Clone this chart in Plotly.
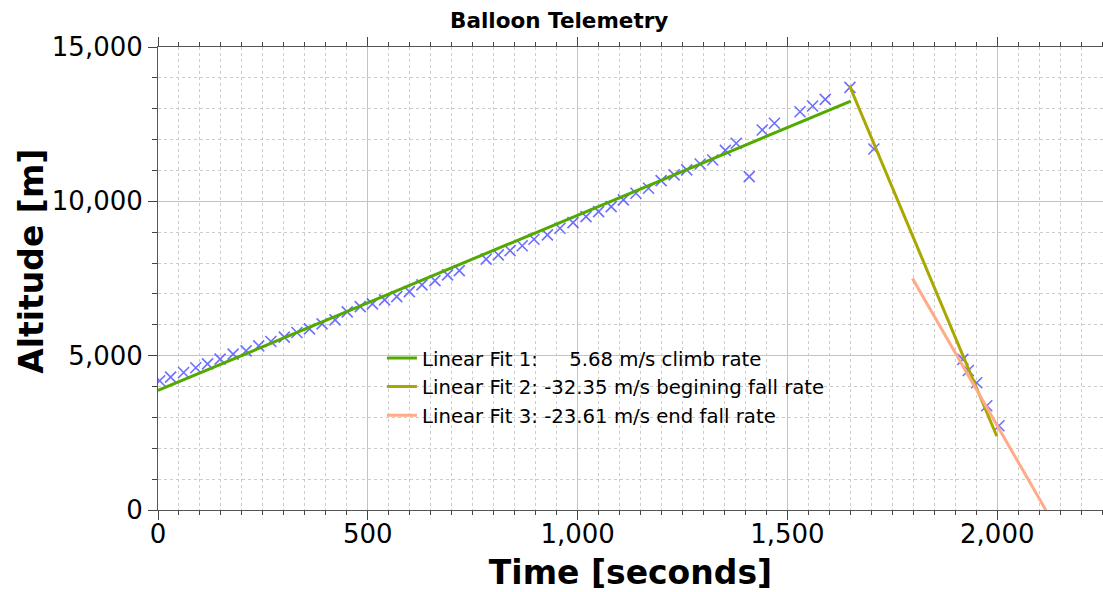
import plotly.graph_objects as go

# ---- data ----
time_s = [4, 30, 61, 90, 118, 148, 179, 210, 240, 269, 301, 331, 361, 391, 422,
          451, 482, 511, 540, 569, 599, 629, 660, 690, 718,
          782, 811, 839, 868, 896, 928, 958, 989, 1020, 1050, 1080, 1109, 1139,
          1169, 1199, 1230, 1260, 1292, 1322, 1352, 1378, 1409, 1440, 1469,
          1530, 1560, 1590, 1649, 1706,
          1918, 1931, 1951, 1975, 2004]
altitude_m = [4186, 4306, 4455, 4607, 4736, 4888, 5050, 5157, 5319, 5458, 5601, 5749, 5869, 6031, 6161,
              6420, 6591, 6679, 6808, 6915, 7077, 7294, 7433, 7617, 7757,
              8126, 8265, 8404, 8560, 8773, 8912, 9129, 9311, 9505, 9667, 9829, 10045, 10262,
              10424, 10670, 10855, 11017, 11211, 11340, 11650, 11881, 10800, 12312, 12528,
              12904, 13089, 13305, 13694, 11697,
              4882, 4519, 4121, 3376, 2729]

fit_names = ["Linear Fit 1:\u00a0\u00a0\u00a0\u00a0 5.68 m/s climb rate",
             "Linear Fit 2: -32.35 m/s begining fall rate",
             "Linear Fit 3: -23.61 m/s end fall rate"]
fit_t_start = [0, 1648, 1798]
fit_t_end = [1651, 1999, 2116]
fit_alt_start = [3872, 13744, 7500]
fit_slope = [5.68, -32.35, -23.61]
fit_colors = ["#52aa00", "#a8a800", "#ffaa88"]

x_ticks = [0, 500, 1000, 1500, 2000]
x_ticklabels = ["0", "500", "1,000", "1,500", "2,000"]
y_ticks = [0, 5000, 10000, 15000]
y_ticklabels = ["0", "5,000", "10,000", "15,000"]

FONT = "DejaVu Sans"

fig = go.Figure()
fig.add_trace(go.Scatter(
    x=time_s, y=altitude_m, mode="markers", showlegend=False,
    marker=dict(symbol="x-thin", size=11, line=dict(width=1.6, color="rgba(85,85,255,0.85)")),
))
for name, t0, t1, a0, s, c in zip(fit_names, fit_t_start, fit_t_end, fit_alt_start, fit_slope, fit_colors):
    fig.add_trace(go.Scatter(
        x=[t0, t1], y=[a0, a0 + s * (t1 - t0)], mode="lines", name=name,
        line=dict(color=c, width=3),
    ))

axis_common = dict(
    showline=True, linecolor="#555555", linewidth=1,
    ticks="outside", ticklen=9, tickcolor="#444444", tickwidth=1,
    showgrid=True, gridcolor="#c4c4c4", gridwidth=1,
    zeroline=False,
    tickfont=dict(family=FONT, size=26, color="black"),
)

fig.update_layout(
    width=1103, height=592,
    margin=dict(l=158, r=0, t=47, b=82),
    paper_bgcolor="white", plot_bgcolor="white",
    font=dict(family=FONT, color="black"),
    title=dict(text="<b>Balloon Telemetry</b>", x=0.507, xref="container", xanchor="center",
               y=0.966, yref="container", yanchor="middle",
               font=dict(family=FONT, size=21.5, color="black")),
    xaxis=dict(
        axis_common, range=[0, 2252], tickvals=x_ticks, ticktext=x_ticklabels,
        mirror="ticks", ticklabelstandoff=-8,
        minor=dict(dtick=50, ticklen=4, tickcolor="#444444", ticks="outside",
                   showgrid=True, gridcolor="#cccccc", griddash="dot"),
        title=dict(text="<b>Time [seconds]</b>", font=dict(family=FONT, size=33, color="black"), standoff=12),
    ),
    yaxis=dict(
        axis_common, range=[0, 15000], tickvals=y_ticks, ticktext=y_ticklabels,
        minor=dict(dtick=1000, ticklen=5, tickcolor="#444444", ticks="outside",
                   showgrid=True, gridcolor="#cccccc", griddash="dot"),
    ),
    legend=dict(x=0.237, xanchor="left", y=0.37, yanchor="top",
                bgcolor="rgba(0,0,0,0)", font=dict(family=FONT, size=19.7, color="black"),
                itemwidth=30, tracegroupgap=0),
    annotations=[dict(
        text="<b>Altitude [m]</b>", textangle=-90, showarrow=False,
        xref="paper", yref="paper", x=-0.1333, y=0.536, xanchor="center", yanchor="middle",
        font=dict(family=FONT, size=33, color="black"),
    )],
)

fig.write_html("out.html")
